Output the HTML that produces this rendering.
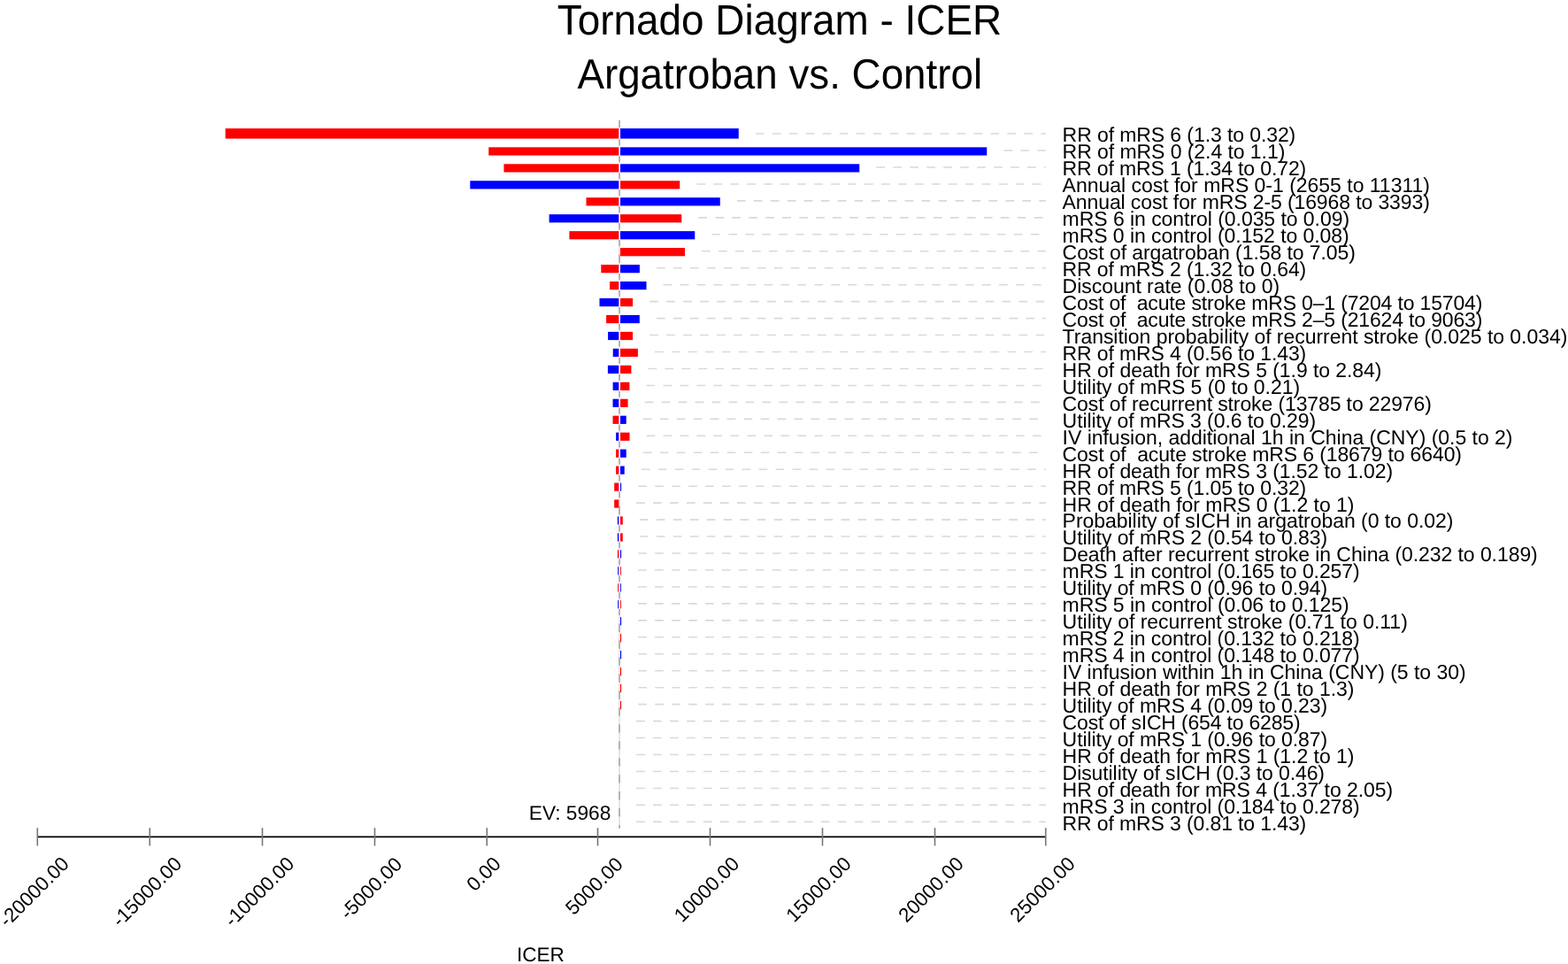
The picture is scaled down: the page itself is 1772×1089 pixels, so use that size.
<!DOCTYPE html>
<html><head><meta charset="utf-8"><title>Tornado Diagram - ICER</title>
<style>html,body{margin:0;padding:0;background:#fff;}body{width:1772px;height:1089px;overflow:hidden;}svg{display:block;}text{font-family:"Liberation Sans",Arial,Helvetica,sans-serif;fill:#000;text-rendering:geometricPrecision;white-space:pre;}</style></head><body>
<svg width="1772" height="1089" viewBox="0 0 1772 1089">
<rect x="0" y="0" width="1772" height="1089" fill="#fff"/>
<text x="881.0" y="39.1" font-size="45.9" text-anchor="middle" transform="matrix(1 0 0 1.042 0 -1.642)">Tornado Diagram - ICER</text>
<text x="881.25" y="100" font-size="45.75" text-anchor="middle" transform="matrix(1 0 0 1.042 0 -4.200)">Argatroban vs. Control</text>
<rect x="699" y="135.3" width="2" height="800.40" fill="#e6e6e6"/>
<rect x="699" y="135.81" width="2" height="9.40" fill="#b4b4b4"/>
<rect x="699" y="154.77" width="2" height="9.40" fill="#b4b4b4"/>
<rect x="699" y="173.73" width="2" height="9.40" fill="#b4b4b4"/>
<rect x="699" y="192.69" width="2" height="9.40" fill="#b4b4b4"/>
<rect x="699" y="211.64" width="2" height="9.40" fill="#b4b4b4"/>
<rect x="699" y="230.60" width="2" height="9.40" fill="#b4b4b4"/>
<rect x="699" y="249.56" width="2" height="9.40" fill="#b4b4b4"/>
<rect x="699" y="268.52" width="2" height="9.40" fill="#b4b4b4"/>
<rect x="699" y="287.48" width="2" height="9.40" fill="#b4b4b4"/>
<rect x="699" y="306.43" width="2" height="9.40" fill="#b4b4b4"/>
<rect x="699" y="325.39" width="2" height="9.40" fill="#b4b4b4"/>
<rect x="699" y="344.35" width="2" height="9.40" fill="#b4b4b4"/>
<rect x="699" y="363.31" width="2" height="9.40" fill="#b4b4b4"/>
<rect x="699" y="382.27" width="2" height="9.40" fill="#b4b4b4"/>
<rect x="699" y="401.22" width="2" height="9.40" fill="#b4b4b4"/>
<rect x="699" y="420.18" width="2" height="9.40" fill="#b4b4b4"/>
<rect x="699" y="439.14" width="2" height="9.40" fill="#b4b4b4"/>
<rect x="699" y="458.10" width="2" height="9.40" fill="#b4b4b4"/>
<rect x="699" y="477.06" width="2" height="9.40" fill="#b4b4b4"/>
<rect x="699" y="496.01" width="2" height="9.40" fill="#b4b4b4"/>
<rect x="699" y="514.97" width="2" height="9.40" fill="#b4b4b4"/>
<rect x="699" y="533.93" width="2" height="9.40" fill="#b4b4b4"/>
<rect x="699" y="552.89" width="2" height="9.40" fill="#b4b4b4"/>
<rect x="699" y="571.85" width="2" height="9.40" fill="#b4b4b4"/>
<rect x="699" y="590.80" width="2" height="9.40" fill="#b4b4b4"/>
<rect x="699" y="609.76" width="2" height="9.40" fill="#b4b4b4"/>
<rect x="699" y="628.72" width="2" height="9.40" fill="#b4b4b4"/>
<rect x="699" y="647.68" width="2" height="9.40" fill="#b4b4b4"/>
<rect x="699" y="666.64" width="2" height="9.40" fill="#b4b4b4"/>
<rect x="699" y="685.59" width="2" height="9.40" fill="#b4b4b4"/>
<rect x="699" y="704.55" width="2" height="9.40" fill="#b4b4b4"/>
<rect x="699" y="723.51" width="2" height="9.40" fill="#b4b4b4"/>
<rect x="699" y="742.47" width="2" height="9.40" fill="#b4b4b4"/>
<rect x="699" y="761.43" width="2" height="9.40" fill="#b4b4b4"/>
<rect x="699" y="780.38" width="2" height="9.40" fill="#b4b4b4"/>
<rect x="699" y="799.34" width="2" height="9.40" fill="#b4b4b4"/>
<rect x="699" y="818.30" width="2" height="9.40" fill="#b4b4b4"/>
<rect x="699" y="837.26" width="2" height="9.40" fill="#b4b4b4"/>
<rect x="699" y="856.22" width="2" height="9.40" fill="#b4b4b4"/>
<rect x="699" y="875.17" width="2" height="9.40" fill="#b4b4b4"/>
<rect x="699" y="894.13" width="2" height="9.40" fill="#b4b4b4"/>
<rect x="699" y="913.09" width="2" height="9.40" fill="#b4b4b4"/>
<rect x="699" y="932.05" width="2" height="3.65" fill="#b4b4b4"/>
<line x1="853.85" y1="151.07" x2="1181.8" y2="151.07" stroke="#d9d9d9" stroke-width="1.6" stroke-dasharray="9.7 9.27"/>
<line x1="1134.35" y1="170.03" x2="1181.8" y2="170.03" stroke="#d9d9d9" stroke-width="1.6" stroke-dasharray="9.7 9.27"/>
<line x1="990.35" y1="188.99" x2="1181.8" y2="188.99" stroke="#d9d9d9" stroke-width="1.6" stroke-dasharray="9.7 9.27"/>
<line x1="787.35" y1="207.94" x2="1181.8" y2="207.94" stroke="#d9d9d9" stroke-width="1.6" stroke-dasharray="9.7 9.27"/>
<line x1="832.85" y1="226.90" x2="1181.8" y2="226.90" stroke="#d9d9d9" stroke-width="1.6" stroke-dasharray="9.7 9.27"/>
<line x1="789.35" y1="245.86" x2="1181.8" y2="245.86" stroke="#d9d9d9" stroke-width="1.6" stroke-dasharray="9.7 9.27"/>
<line x1="804.35" y1="264.82" x2="1181.8" y2="264.82" stroke="#d9d9d9" stroke-width="1.6" stroke-dasharray="9.7 9.27"/>
<line x1="793.10" y1="283.78" x2="1181.8" y2="283.78" stroke="#d9d9d9" stroke-width="1.6" stroke-dasharray="9.7 9.27"/>
<line x1="742.00" y1="302.73" x2="1181.8" y2="302.73" stroke="#d9d9d9" stroke-width="1.6" stroke-dasharray="9.7 9.27"/>
<line x1="749.60" y1="321.69" x2="1181.8" y2="321.69" stroke="#d9d9d9" stroke-width="1.6" stroke-dasharray="9.7 9.27"/>
<line x1="734.20" y1="340.65" x2="1181.8" y2="340.65" stroke="#d9d9d9" stroke-width="1.6" stroke-dasharray="9.7 9.27"/>
<line x1="741.90" y1="359.61" x2="1181.8" y2="359.61" stroke="#d9d9d9" stroke-width="1.6" stroke-dasharray="9.7 9.27"/>
<line x1="734.20" y1="378.57" x2="1181.8" y2="378.57" stroke="#d9d9d9" stroke-width="1.6" stroke-dasharray="9.7 9.27"/>
<line x1="740.00" y1="397.52" x2="1181.8" y2="397.52" stroke="#d9d9d9" stroke-width="1.6" stroke-dasharray="9.7 9.27"/>
<line x1="732.50" y1="416.48" x2="1181.8" y2="416.48" stroke="#d9d9d9" stroke-width="1.6" stroke-dasharray="9.7 9.27"/>
<line x1="730.50" y1="435.44" x2="1181.8" y2="435.44" stroke="#d9d9d9" stroke-width="1.6" stroke-dasharray="9.7 9.27"/>
<line x1="728.70" y1="454.40" x2="1181.8" y2="454.40" stroke="#d9d9d9" stroke-width="1.6" stroke-dasharray="9.7 9.27"/>
<line x1="726.80" y1="473.36" x2="1181.8" y2="473.36" stroke="#d9d9d9" stroke-width="1.6" stroke-dasharray="9.7 9.27"/>
<line x1="730.60" y1="492.31" x2="1181.8" y2="492.31" stroke="#d9d9d9" stroke-width="1.6" stroke-dasharray="9.7 9.27"/>
<line x1="726.80" y1="511.27" x2="1181.8" y2="511.27" stroke="#d9d9d9" stroke-width="1.6" stroke-dasharray="9.7 9.27"/>
<line x1="724.80" y1="530.23" x2="1181.8" y2="530.23" stroke="#d9d9d9" stroke-width="1.6" stroke-dasharray="9.7 9.27"/>
<line x1="721.20" y1="549.19" x2="1181.8" y2="549.19" stroke="#d9d9d9" stroke-width="1.6" stroke-dasharray="9.7 9.27"/>
<line x1="719.10" y1="568.15" x2="1181.8" y2="568.15" stroke="#d9d9d9" stroke-width="1.6" stroke-dasharray="9.7 9.27"/>
<line x1="722.85" y1="587.10" x2="1181.8" y2="587.10" stroke="#d9d9d9" stroke-width="1.6" stroke-dasharray="9.7 9.27"/>
<line x1="722.85" y1="606.06" x2="1181.8" y2="606.06" stroke="#d9d9d9" stroke-width="1.6" stroke-dasharray="9.7 9.27"/>
<line x1="721.20" y1="625.02" x2="1181.8" y2="625.02" stroke="#d9d9d9" stroke-width="1.6" stroke-dasharray="9.7 9.27"/>
<line x1="721.00" y1="643.98" x2="1181.8" y2="643.98" stroke="#d9d9d9" stroke-width="1.6" stroke-dasharray="9.7 9.27"/>
<line x1="721.00" y1="662.94" x2="1181.8" y2="662.94" stroke="#d9d9d9" stroke-width="1.6" stroke-dasharray="9.7 9.27"/>
<line x1="721.00" y1="681.89" x2="1181.8" y2="681.89" stroke="#d9d9d9" stroke-width="1.6" stroke-dasharray="9.7 9.27"/>
<line x1="721.20" y1="700.85" x2="1181.8" y2="700.85" stroke="#d9d9d9" stroke-width="1.6" stroke-dasharray="9.7 9.27"/>
<line x1="721.20" y1="719.81" x2="1181.8" y2="719.81" stroke="#d9d9d9" stroke-width="1.6" stroke-dasharray="9.7 9.27"/>
<line x1="721.20" y1="738.77" x2="1181.8" y2="738.77" stroke="#d9d9d9" stroke-width="1.6" stroke-dasharray="9.7 9.27"/>
<line x1="721.20" y1="757.73" x2="1181.8" y2="757.73" stroke="#d9d9d9" stroke-width="1.6" stroke-dasharray="9.7 9.27"/>
<line x1="721.20" y1="776.68" x2="1181.8" y2="776.68" stroke="#d9d9d9" stroke-width="1.6" stroke-dasharray="9.7 9.27"/>
<line x1="721.20" y1="795.64" x2="1181.8" y2="795.64" stroke="#d9d9d9" stroke-width="1.6" stroke-dasharray="9.7 9.27"/>
<line x1="719.10" y1="814.60" x2="1181.8" y2="814.60" stroke="#d9d9d9" stroke-width="1.6" stroke-dasharray="9.7 9.27"/>
<line x1="719.10" y1="833.56" x2="1181.8" y2="833.56" stroke="#d9d9d9" stroke-width="1.6" stroke-dasharray="9.7 9.27"/>
<line x1="719.10" y1="852.52" x2="1181.8" y2="852.52" stroke="#d9d9d9" stroke-width="1.6" stroke-dasharray="9.7 9.27"/>
<line x1="719.10" y1="871.47" x2="1181.8" y2="871.47" stroke="#d9d9d9" stroke-width="1.6" stroke-dasharray="9.7 9.27"/>
<line x1="719.10" y1="890.43" x2="1181.8" y2="890.43" stroke="#d9d9d9" stroke-width="1.6" stroke-dasharray="9.7 9.27"/>
<line x1="719.10" y1="909.39" x2="1181.8" y2="909.39" stroke="#d9d9d9" stroke-width="1.6" stroke-dasharray="9.7 9.27"/>
<line x1="719.10" y1="928.35" x2="1181.8" y2="928.35" stroke="#d9d9d9" stroke-width="1.6" stroke-dasharray="9.7 9.27"/>
<rect x="699" y="144.50" width="2" height="12.70" fill="#fff"/>
<rect x="254.70" y="145.10" width="444.60" height="11.50" fill="#ff0000"/>
<rect x="701.00" y="145.10" width="133.75" height="11.50" fill="#0000ff"/>
<rect x="699" y="165.73" width="2" height="10.45" fill="#fff"/>
<rect x="552.25" y="166.33" width="147.05" height="9.25" fill="#ff0000"/>
<rect x="701.00" y="166.33" width="414.25" height="9.25" fill="#0000ff"/>
<rect x="699" y="184.69" width="2" height="10.45" fill="#fff"/>
<rect x="569.40" y="185.29" width="129.90" height="9.25" fill="#ff0000"/>
<rect x="701.00" y="185.29" width="270.25" height="9.25" fill="#0000ff"/>
<rect x="699" y="203.64" width="2" height="10.45" fill="#fff"/>
<rect x="531.25" y="204.24" width="168.05" height="9.25" fill="#0000ff"/>
<rect x="701.00" y="204.24" width="67.25" height="9.25" fill="#ff0000"/>
<rect x="699" y="222.60" width="2" height="10.45" fill="#fff"/>
<rect x="662.50" y="223.20" width="36.80" height="9.25" fill="#ff0000"/>
<rect x="701.00" y="223.20" width="112.75" height="9.25" fill="#0000ff"/>
<rect x="699" y="241.56" width="2" height="10.45" fill="#fff"/>
<rect x="620.60" y="242.16" width="78.70" height="9.25" fill="#0000ff"/>
<rect x="701.00" y="242.16" width="69.25" height="9.25" fill="#ff0000"/>
<rect x="699" y="260.52" width="2" height="10.45" fill="#fff"/>
<rect x="643.40" y="261.12" width="55.90" height="9.25" fill="#ff0000"/>
<rect x="701.00" y="261.12" width="84.25" height="9.25" fill="#0000ff"/>
<rect x="701.00" y="280.08" width="73.00" height="9.25" fill="#ff0000"/>
<rect x="699" y="298.43" width="2" height="10.45" fill="#fff"/>
<rect x="679.30" y="299.03" width="20.00" height="9.25" fill="#ff0000"/>
<rect x="701.00" y="299.03" width="21.90" height="9.25" fill="#0000ff"/>
<rect x="699" y="317.39" width="2" height="10.45" fill="#fff"/>
<rect x="689.00" y="317.99" width="10.30" height="9.25" fill="#ff0000"/>
<rect x="701.00" y="317.99" width="29.50" height="9.25" fill="#0000ff"/>
<rect x="699" y="336.35" width="2" height="10.45" fill="#fff"/>
<rect x="677.50" y="336.95" width="21.80" height="9.25" fill="#0000ff"/>
<rect x="701.00" y="336.95" width="14.10" height="9.25" fill="#ff0000"/>
<rect x="699" y="355.31" width="2" height="10.45" fill="#fff"/>
<rect x="685.10" y="355.91" width="14.20" height="9.25" fill="#ff0000"/>
<rect x="701.00" y="355.91" width="21.80" height="9.25" fill="#0000ff"/>
<rect x="699" y="374.27" width="2" height="10.45" fill="#fff"/>
<rect x="687.10" y="374.87" width="12.20" height="9.25" fill="#0000ff"/>
<rect x="701.00" y="374.87" width="14.10" height="9.25" fill="#ff0000"/>
<rect x="699" y="393.22" width="2" height="10.45" fill="#fff"/>
<rect x="692.70" y="393.82" width="6.60" height="9.25" fill="#0000ff"/>
<rect x="701.00" y="393.82" width="19.90" height="9.25" fill="#ff0000"/>
<rect x="699" y="412.18" width="2" height="10.45" fill="#fff"/>
<rect x="686.90" y="412.78" width="12.40" height="9.25" fill="#0000ff"/>
<rect x="701.00" y="412.78" width="12.40" height="9.25" fill="#ff0000"/>
<rect x="699" y="431.14" width="2" height="10.45" fill="#fff"/>
<rect x="692.60" y="431.74" width="6.70" height="9.25" fill="#0000ff"/>
<rect x="701.00" y="431.74" width="10.40" height="9.25" fill="#ff0000"/>
<rect x="699" y="450.10" width="2" height="10.45" fill="#fff"/>
<rect x="692.50" y="450.70" width="6.80" height="9.25" fill="#0000ff"/>
<rect x="701.00" y="450.70" width="8.60" height="9.25" fill="#ff0000"/>
<rect x="699" y="469.06" width="2" height="10.45" fill="#fff"/>
<rect x="692.50" y="469.66" width="6.80" height="9.25" fill="#ff0000"/>
<rect x="701.00" y="469.66" width="6.70" height="9.25" fill="#0000ff"/>
<rect x="699" y="488.01" width="2" height="10.45" fill="#fff"/>
<rect x="696.10" y="488.61" width="3.20" height="9.25" fill="#0000ff"/>
<rect x="701.00" y="488.61" width="10.50" height="9.25" fill="#ff0000"/>
<rect x="699" y="506.97" width="2" height="10.45" fill="#fff"/>
<rect x="696.10" y="507.57" width="3.20" height="9.25" fill="#ff0000"/>
<rect x="701.00" y="507.57" width="6.70" height="9.25" fill="#0000ff"/>
<rect x="699" y="525.93" width="2" height="10.45" fill="#fff"/>
<rect x="696.10" y="526.53" width="3.20" height="9.25" fill="#ff0000"/>
<rect x="701.00" y="526.53" width="4.70" height="9.25" fill="#0000ff"/>
<rect x="699" y="544.89" width="2" height="10.45" fill="#fff"/>
<rect x="694.20" y="545.49" width="5.10" height="9.25" fill="#ff0000"/>
<rect x="701.00" y="545.49" width="1.10" height="9.25" fill="#0000ff"/>
<rect x="694.20" y="564.45" width="5.10" height="9.25" fill="#ff0000"/>
<rect x="699" y="582.80" width="2" height="10.45" fill="#fff"/>
<rect x="697.90" y="583.40" width="1.40" height="9.25" fill="#0000ff"/>
<rect x="701.00" y="583.40" width="2.75" height="9.25" fill="#ff0000"/>
<rect x="699" y="601.76" width="2" height="10.45" fill="#fff"/>
<rect x="697.90" y="602.36" width="1.40" height="9.25" fill="#0000ff"/>
<rect x="701.00" y="602.36" width="2.75" height="9.25" fill="#ff0000"/>
<rect x="699" y="620.72" width="2" height="10.45" fill="#fff"/>
<rect x="697.90" y="621.32" width="1.40" height="9.25" fill="#ff0000"/>
<rect x="701.00" y="621.32" width="1.10" height="9.25" fill="#0000ff"/>
<rect x="699" y="639.68" width="2" height="10.45" fill="#fff"/>
<rect x="698.20" y="640.28" width="1.10" height="9.25" fill="#0000ff"/>
<rect x="701.00" y="640.28" width="0.90" height="9.25" fill="#ff0000"/>
<rect x="699" y="658.64" width="2" height="10.45" fill="#fff"/>
<rect x="698.20" y="659.24" width="1.10" height="9.25" fill="#ff0000"/>
<rect x="701.00" y="659.24" width="0.90" height="9.25" fill="#0000ff"/>
<rect x="699" y="677.59" width="2" height="10.45" fill="#fff"/>
<rect x="698.20" y="678.19" width="1.10" height="9.25" fill="#0000ff"/>
<rect x="701.00" y="678.19" width="0.90" height="9.25" fill="#ff0000"/>
<rect x="701.00" y="697.15" width="1.10" height="9.25" fill="#0000ff"/>
<rect x="701.00" y="716.11" width="1.10" height="9.25" fill="#ff0000"/>
<rect x="701.00" y="735.07" width="1.10" height="9.25" fill="#0000ff"/>
<rect x="701.00" y="754.03" width="1.10" height="9.25" fill="#ff0000"/>
<rect x="701.00" y="772.98" width="1.10" height="9.25" fill="#ff0000"/>
<rect x="701.00" y="791.94" width="1.10" height="9.25" fill="#ff0000"/>
<text class="lbl" x="1200.6" y="160.42" font-size="23" textLength="263.67" lengthAdjust="spacing" xml:space="preserve">RR of mRS 6 (1.3 to 0.32)</text>
<text class="lbl" x="1200.6" y="179.38" font-size="23" textLength="251.71" lengthAdjust="spacing" xml:space="preserve">RR of mRS 0 (2.4 to 1.1)</text>
<text class="lbl" x="1200.6" y="198.34" font-size="23" textLength="275.62" lengthAdjust="spacing" xml:space="preserve">RR of mRS 1 (1.34 to 0.72)</text>
<text class="lbl" x="1200.6" y="217.29" font-size="23" textLength="415.32" lengthAdjust="spacing" xml:space="preserve">Annual cost for mRS 0-1 (2655 to 11311)</text>
<text class="lbl" x="1200.6" y="236.25" font-size="23" textLength="415.23" lengthAdjust="spacing" xml:space="preserve">Annual cost for mRS 2-5 (16968 to 3393)</text>
<text class="lbl" x="1200.6" y="255.21" font-size="23" textLength="324.51" lengthAdjust="spacing" xml:space="preserve">mRS 6 in control (0.035 to 0.09)</text>
<text class="lbl" x="1200.6" y="274.17" font-size="23" textLength="324.11" lengthAdjust="spacing" xml:space="preserve">mRS 0 in control (0.152 to 0.08)</text>
<text class="lbl" x="1200.6" y="293.13" font-size="23" textLength="331.38" lengthAdjust="spacing" xml:space="preserve">Cost of argatroban (1.58 to 7.05)</text>
<text class="lbl" x="1200.6" y="312.08" font-size="23" textLength="275.62" lengthAdjust="spacing" xml:space="preserve">RR of mRS 2 (1.32 to 0.64)</text>
<text class="lbl" x="1200.6" y="331.04" font-size="23" textLength="245.61" lengthAdjust="spacing" xml:space="preserve">Discount rate (0.08 to 0)</text>
<text class="lbl" x="1200.6" y="350.00" font-size="23" textLength="474.71" lengthAdjust="spacing" xml:space="preserve">Cost of  acute stroke mRS 0–1 (7204 to 15704)</text>
<text class="lbl" x="1200.6" y="368.96" font-size="23" textLength="474.71" lengthAdjust="spacing" xml:space="preserve">Cost of  acute stroke mRS 2–5 (21624 to 9063)</text>
<text class="lbl" x="1200.6" y="387.92" font-size="23" textLength="570.77" lengthAdjust="spacing" xml:space="preserve">Transition probability of recurrent stroke (0.025 to 0.034)</text>
<text class="lbl" x="1200.6" y="406.87" font-size="23" textLength="275.62" lengthAdjust="spacing" xml:space="preserve">RR of mRS 4 (0.56 to 1.43)</text>
<text class="lbl" x="1200.6" y="425.83" font-size="23" textLength="360.87" lengthAdjust="spacing" xml:space="preserve">HR of death for mRS 5 (1.9 to 2.84)</text>
<text class="lbl" x="1200.6" y="444.79" font-size="23" textLength="268.48" lengthAdjust="spacing" xml:space="preserve">Utility of mRS 5 (0 to 0.21)</text>
<text class="lbl" x="1200.6" y="463.75" font-size="23" textLength="417.28" lengthAdjust="spacing" xml:space="preserve">Cost of recurrent stroke (13785 to 22976)</text>
<text class="lbl" x="1200.6" y="482.71" font-size="23" textLength="286.57" lengthAdjust="spacing" xml:space="preserve">Utility of mRS 3 (0.6 to 0.29)</text>
<text class="lbl" x="1200.6" y="501.66" font-size="23" textLength="508.92" lengthAdjust="spacing" xml:space="preserve">IV infusion, additional 1h in China (CNY) (0.5 to 2)</text>
<text class="lbl" x="1200.6" y="520.62" font-size="23" textLength="451.37" lengthAdjust="spacing" xml:space="preserve">Cost of  acute stroke mRS 6 (18679 to 6640)</text>
<text class="lbl" x="1200.6" y="539.58" font-size="23" textLength="373.54" lengthAdjust="spacing" xml:space="preserve">HR of death for mRS 3 (1.52 to 1.02)</text>
<text class="lbl" x="1200.6" y="558.54" font-size="23" textLength="275.62" lengthAdjust="spacing" xml:space="preserve">RR of mRS 5 (1.05 to 0.32)</text>
<text class="lbl" x="1200.6" y="577.50" font-size="23" textLength="329.81" lengthAdjust="spacing" xml:space="preserve">HR of death for mRS 0 (1.2 to 1)</text>
<text class="lbl" x="1200.6" y="596.45" font-size="23" textLength="441.85" lengthAdjust="spacing" xml:space="preserve">Probability of sICH in argatroban (0 to 0.02)</text>
<text class="lbl" x="1200.6" y="615.41" font-size="23" textLength="299.52" lengthAdjust="spacing" xml:space="preserve">Utility of mRS 2 (0.54 to 0.83)</text>
<text class="lbl" x="1200.6" y="634.37" font-size="23" textLength="537.18" lengthAdjust="spacing" xml:space="preserve">Death after recurrent stroke in China (0.232 to 0.189)</text>
<text class="lbl" x="1200.6" y="653.33" font-size="23" textLength="336.08" lengthAdjust="spacing" xml:space="preserve">mRS 1 in control (0.165 to 0.257)</text>
<text class="lbl" x="1200.6" y="672.29" font-size="23" textLength="299.52" lengthAdjust="spacing" xml:space="preserve">Utility of mRS 0 (0.96 to 0.94)</text>
<text class="lbl" x="1200.6" y="691.24" font-size="23" textLength="324.11" lengthAdjust="spacing" xml:space="preserve">mRS 5 in control (0.06 to 0.125)</text>
<text class="lbl" x="1200.6" y="710.20" font-size="23" textLength="390.21" lengthAdjust="spacing" xml:space="preserve">Utility of recurrent stroke (0.71 to 0.11)</text>
<text class="lbl" x="1200.6" y="729.16" font-size="23" textLength="336.08" lengthAdjust="spacing" xml:space="preserve">mRS 2 in control (0.132 to 0.218)</text>
<text class="lbl" x="1200.6" y="748.12" font-size="23" textLength="336.08" lengthAdjust="spacing" xml:space="preserve">mRS 4 in control (0.148 to 0.077)</text>
<text class="lbl" x="1200.6" y="767.08" font-size="23" textLength="455.99" lengthAdjust="spacing" xml:space="preserve">IV infusion within 1h in China (CNY) (5 to 30)</text>
<text class="lbl" x="1200.6" y="786.03" font-size="23" textLength="329.81" lengthAdjust="spacing" xml:space="preserve">HR of death for mRS 2 (1 to 1.3)</text>
<text class="lbl" x="1200.6" y="804.99" font-size="23" textLength="299.52" lengthAdjust="spacing" xml:space="preserve">Utility of mRS 4 (0.09 to 0.23)</text>
<text class="lbl" x="1200.6" y="823.95" font-size="23" textLength="269.01" lengthAdjust="spacing" xml:space="preserve">Cost of sICH (654 to 6285)</text>
<text class="lbl" x="1200.6" y="842.91" font-size="23" textLength="299.52" lengthAdjust="spacing" xml:space="preserve">Utility of mRS 1 (0.96 to 0.87)</text>
<text class="lbl" x="1200.6" y="861.87" font-size="23" textLength="329.81" lengthAdjust="spacing" xml:space="preserve">HR of death for mRS 1 (1.2 to 1)</text>
<text class="lbl" x="1200.6" y="880.82" font-size="23" textLength="296.42" lengthAdjust="spacing" xml:space="preserve">Disutility of sICH (0.3 to 0.46)</text>
<text class="lbl" x="1200.6" y="899.78" font-size="23" textLength="373.54" lengthAdjust="spacing" xml:space="preserve">HR of death for mRS 4 (1.37 to 2.05)</text>
<text class="lbl" x="1200.6" y="918.74" font-size="23" textLength="336.08" lengthAdjust="spacing" xml:space="preserve">mRS 3 in control (0.184 to 0.278)</text>
<text class="lbl" x="1200.6" y="937.70" font-size="23" textLength="275.62" lengthAdjust="spacing" xml:space="preserve">RR of mRS 3 (0.81 to 1.43)</text>
<line x1="42.3" y1="945.4" x2="1182" y2="945.4" stroke="#000" stroke-width="1.6"/>
<line x1="42.30" y1="935.2" x2="42.30" y2="955.5" stroke="#777" stroke-width="1.6"/>
<line x1="169.25" y1="935.2" x2="169.25" y2="955.5" stroke="#777" stroke-width="1.6"/>
<line x1="296.50" y1="935.2" x2="296.50" y2="955.5" stroke="#777" stroke-width="1.6"/>
<line x1="423.50" y1="935.2" x2="423.50" y2="955.5" stroke="#777" stroke-width="1.6"/>
<line x1="550.25" y1="935.2" x2="550.25" y2="955.5" stroke="#777" stroke-width="1.6"/>
<line x1="675.50" y1="935.2" x2="675.50" y2="955.5" stroke="#777" stroke-width="1.6"/>
<line x1="802.50" y1="935.2" x2="802.50" y2="955.5" stroke="#777" stroke-width="1.6"/>
<line x1="929.50" y1="935.2" x2="929.50" y2="955.5" stroke="#777" stroke-width="1.6"/>
<line x1="1056.50" y1="935.2" x2="1056.50" y2="955.5" stroke="#777" stroke-width="1.6"/>
<line x1="1181.75" y1="935.2" x2="1181.75" y2="955.5" stroke="#777" stroke-width="1.6"/>
<text x="79.30" y="977.30" font-size="22.3" text-anchor="end" transform="rotate(-45 79.30 977.30)">-20000.00</text>
<text x="206.80" y="977.30" font-size="22.3" text-anchor="end" transform="rotate(-45 206.80 977.30)">-15000.00</text>
<text x="333.80" y="977.30" font-size="22.3" text-anchor="end" transform="rotate(-45 333.80 977.30)">-10000.00</text>
<text x="455.80" y="977.80" font-size="22.3" text-anchor="end" transform="rotate(-45 455.80 977.80)">-5000.00</text>
<text x="567.30" y="977.30" font-size="22.3" text-anchor="end" transform="rotate(-45 567.30 977.30)">0.00</text>
<text x="705.30" y="977.80" font-size="22.3" text-anchor="end" transform="rotate(-45 705.30 977.80)">5000.00</text>
<text x="836.80" y="977.30" font-size="22.3" text-anchor="end" transform="rotate(-45 836.80 977.30)">10000.00</text>
<text x="963.30" y="977.30" font-size="22.3" text-anchor="end" transform="rotate(-45 963.30 977.30)">15000.00</text>
<text x="1090.30" y="977.30" font-size="22.3" text-anchor="end" transform="rotate(-45 1090.30 977.30)">20000.00</text>
<text x="1216.30" y="977.30" font-size="22.3" text-anchor="end" transform="rotate(-45 1216.30 977.30)">25000.00</text>
<text x="690.3" y="926.2" font-size="22.7" text-anchor="end">EV: 5968</text>
<text x="584.1" y="1085.7" font-size="22.5">ICER</text>
</svg></body></html>
